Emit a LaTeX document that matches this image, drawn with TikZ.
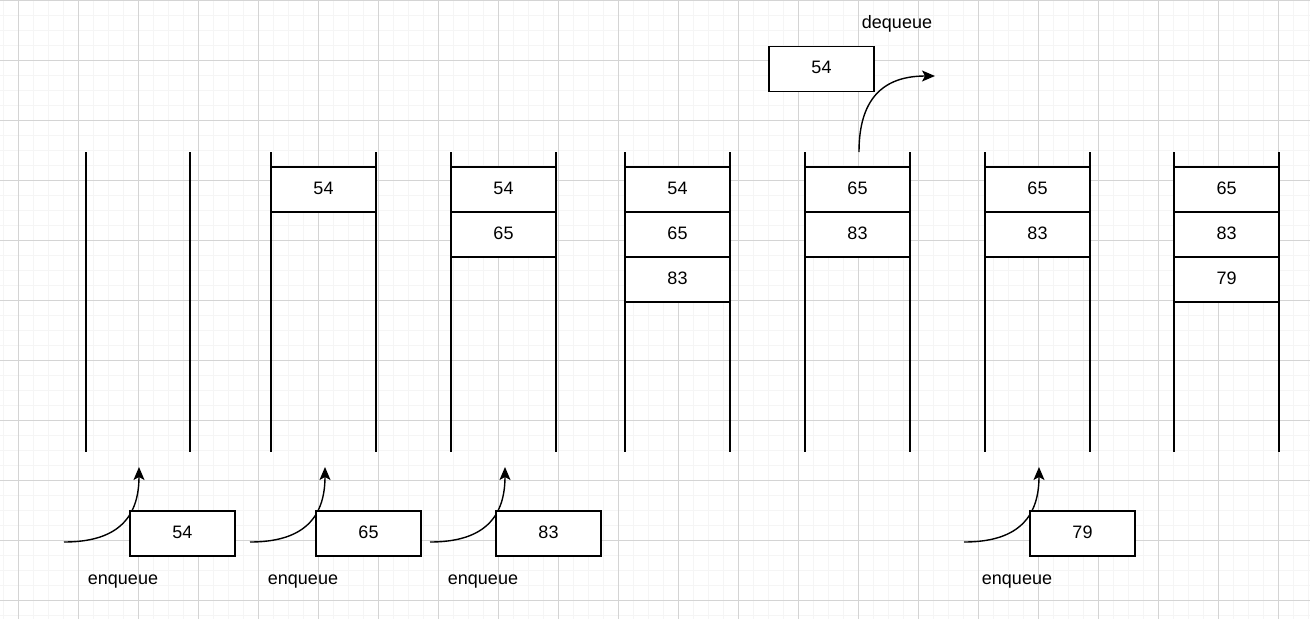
\documentclass[tikz,border=0pt]{standalone}
\usepackage{fontspec}
\setmainfont{Liberation Sans}
\usetikzlibrary{arrows.meta}
\newcommand{\lbl}{\fontsize{18}{21}\selectfont}
\tikzset{
  cell/.style={draw, line width=1.4, fill=white, minimum width=105, minimum height=45, inner sep=0, text depth=3, font=\lbl},
  wall/.style={line width=1.4},
  flow/.style={line width=1.4, -{Stealth[length=13, width=11, inset=3]}},
  caption/.style={font=\lbl, inner sep=0, anchor=base},
  minorgrid/.style={draw=black!4, line width=1},
  majorgrid/.style={draw=black!17, line width=1}
}
\begin{document}
\begin{tikzpicture}[x=1pt,y=-1pt]
\useasboundingbox (0,0) rectangle (1310,619);
\fill[white] (0,0) rectangle (1310,619);
% grid
\foreach \gx in {3,18,...,1308} \draw[minorgrid] (\gx,0) -- (\gx,619);
\foreach \gy in {0,15,...,615} \draw[minorgrid] (0,\gy) -- (1310,\gy);
\foreach \gx in {18,78,...,1298} \draw[majorgrid] (\gx,0) -- (\gx,619);
\foreach \gy in {0,60,...,600} \draw[majorgrid] (0,\gy) -- (1310,\gy);

% stack walls
\foreach \l/\r in {86/190,271/376,451/556,625/730,805/910,985/1090,1174/1279}{
  \draw[wall] (\l,152) -- (\l,452);
  \draw[wall] (\r,152) -- (\r,452);
}

% stack contents
\node[cell] (s2a) at (323.5,189.5) {54};
\node[cell] (s3a) at (503.5,189.5) {54};
\node[cell] (s3b) at (503.5,234.5) {65};
\node[cell] (s4a) at (677.5,189.5) {54};
\node[cell] (s4b) at (677.5,234.5) {65};
\node[cell] (s4c) at (677.5,279.5) {83};
\node[cell] (s5a) at (857.5,189.5) {65};
\node[cell] (s5b) at (857.5,234.5) {83};
\node[cell] (s6a) at (1037.5,189.5) {65};
\node[cell] (s6b) at (1037.5,234.5) {83};
\node[cell] (s7a) at (1226.5,189.5) {65};
\node[cell] (s7b) at (1226.5,234.5) {83};
\node[cell] (s7c) at (1226.5,279.5) {79};

% enqueue arrows
\coordinate (e1s) at (64,542);  \coordinate (e1t) at (139,467);
\coordinate (e2s) at (250,542); \coordinate (e2t) at (325,467);
\coordinate (e3s) at (430,542); \coordinate (e3t) at (505,467);
\coordinate (e4s) at (964,542); \coordinate (e4t) at (1039,467);
\draw[flow] (e1s) .. controls (115,542) and (139,520) .. (e1t);
\draw[flow] (e2s) .. controls (301,542) and (325,520) .. (e2t);
\draw[flow] (e3s) .. controls (481,542) and (505,520) .. (e3t);
\draw[flow] (e4s) .. controls (1015,542) and (1039,520) .. (e4t);

% incoming boxes
\node[cell] (in1) at (182.5,533.5) {54};
\node[cell] (in2) at (368.5,533.5) {65};
\node[cell] (in3) at (548.5,533.5) {83};
\node[cell] (in4) at (1082.5,533.5) {79};

\node[caption] (l1) at (123,584) {enqueue};
\node[caption] (l2) at (303,584) {enqueue};
\node[caption] (l3) at (483,584) {enqueue};
\node[caption] (l4) at (1017,584) {enqueue};

% dequeue
\node[cell] (out) at (821.5,69) {54};
\node[caption] (ld) at (897,28) {dequeue};
\coordinate (ds) at (859,152); \coordinate (dt) at (935,76);
\draw[flow] (ds) .. controls (859,100) and (882,76) .. (dt);
\end{tikzpicture}
\end{document}
